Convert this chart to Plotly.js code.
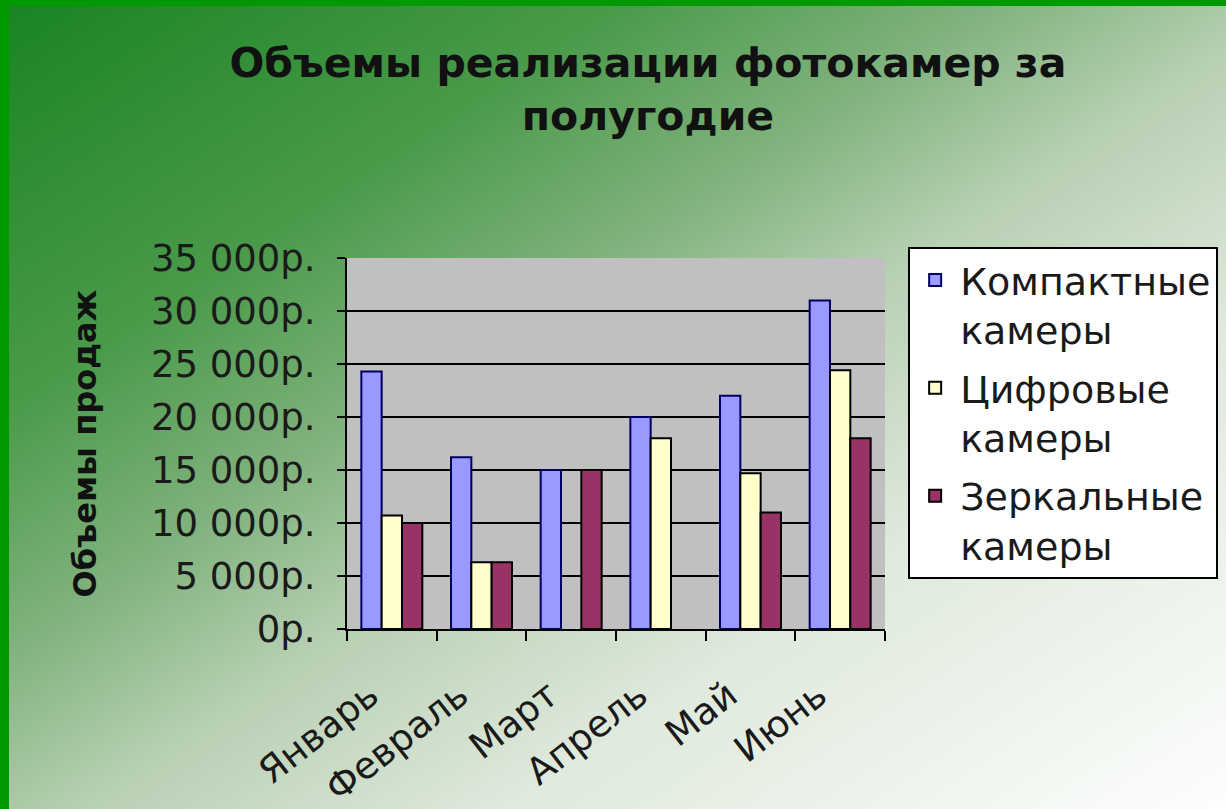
<!DOCTYPE html>
<html>
<head>
<meta charset="utf-8">
<script src="https://cdn.plot.ly/plotly-3.0.1.min.js"></script>
<style>
  html, body { margin: 0; padding: 0; width: 1226px; height: 809px; overflow: hidden; background: #009900; }
  #bg { position: absolute; left: 9px; top: 6px; width: 1217px; height: 803px;
        background: linear-gradient(to bottom right, #1a8424 0%, #4a9a4a 25%, #80b27d 40%, #b8d0b4 53%, #dfe9dc 70%, #fdfefd 100%); }
  #chart { position: absolute; left: 0; top: 0; width: 1226px; height: 809px; }
</style>
</head>
<body>
<div id="bg"></div>
<div id="chart"></div>
<script>
const months = ["Январь", "Февраль", "Март", "Апрель", "Май", "Июнь"];
const compact = [24300, 16200, 15000, 20000, 22000, 31000];
const digital = [10700, 6300, null, 18000, 14700, 24400];
const mirror = [10000, 6300, 15000, null, 11000, 18000];
const seriesNames = ["Компактные<br>камеры", "Цифровые<br>камеры", "Зеркальные<br>камеры"];
const yTickVals = [0, 5000, 10000, 15000, 20000, 25000, 30000, 35000];
const yTickText = ["0р.", "5 000р.", "10 000р.", "15 000р.", "20 000р.", "25 000р.", "30 000р.", "35 000р."];

const font = "DejaVu Sans";
const traces = [
  {type: "bar", name: seriesNames[0], x: months, y: compact, legendgroup: "g1",
   marker: {color: "#9999ff", line: {color: "#000060", width: 2}}},
  {type: "bar", name: seriesNames[1], x: months, y: digital, legendgroup: "g2",
   marker: {color: "#ffffcc", line: {color: "#000000", width: 2}}},
  {type: "bar", name: seriesNames[2], x: months, y: mirror, legendgroup: "g3",
   marker: {color: "#993366", line: {color: "#000000", width: 2}}}
];

const layout = {
  width: 1226, height: 809,
  paper_bgcolor: "rgba(0,0,0,0)",
  plot_bgcolor: "#c0c0c0",
  margin: {l: 347, r: 341, t: 258, b: 180, autoexpand: false},
  barmode: "group", bargap: 0.32, bargroupgap: 0,
  showlegend: true,
  title: {text: "Объемы реализации фотокамер за<br>полугодие",
          font: {family: font, size: 41, color: "#111", weight: "bold"},
          x: 0.5285, xanchor: "center", xref: "container", y: 0.905, yanchor: "middle", yref: "container"},
  xaxis: {type: "category", tickson: "boundaries", ticks: "outside", ticklen: 10, tickwidth: 2, tickcolor: "#000",
          showline: true, linecolor: "#000", linewidth: 2, showgrid: false,
          tickangle: -38, ticklabelstandoff: 28, ticklabelshift: -22,
          tickfont: {family: font, size: 37, color: "#1a1a1a"}},
  yaxis: {range: [0, 35000], tickvals: yTickVals, ticktext: yTickText,
          ticks: "outside", ticklen: 8, tickwidth: 2, tickcolor: "#000",
          showline: true, linecolor: "#000", linewidth: 2, ticklabelstandoff: 14,
          showgrid: true, gridcolor: "#000", gridwidth: 2, zeroline: false,
          tickfont: {family: font, size: 37, color: "#1a1a1a"},
          title: {text: "Объемы продаж", standoff: 45, font: {family: font, size: 32, color: "#111", weight: "bold"}}},
  legend: {x: 1.043, xanchor: "left", y: 1.03, yanchor: "top", valign: "top",
           bgcolor: "#ffffff", bordercolor: "#000", borderwidth: 2, itemwidth: 40,
           font: {family: font, size: 38, color: "#1a1a1a"}, tracegroupgap: 6}
};

Plotly.newPlot("chart", traces, layout, {displayModeBar: false, staticPlot: true});
</script>
</body>
</html>
